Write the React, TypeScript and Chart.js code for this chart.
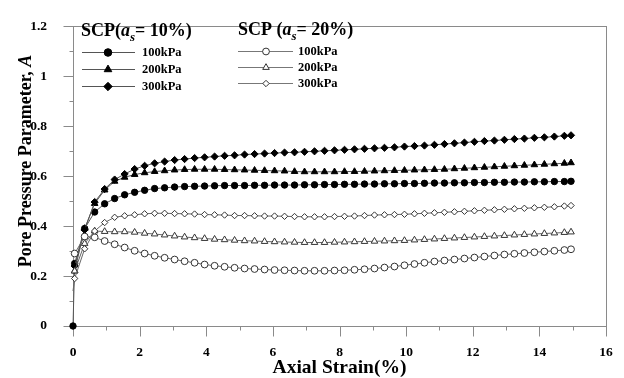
import React, { useEffect, useRef } from 'react';
import { Chart, registerables } from 'chart.js';
import { drawPoint } from 'chart.js/helpers';

Chart.register(...registerables);

const FONT = "'Liberation Serif', 'Times New Roman', serif";

// Axial strain (%) of the sampled points
const strain = [
  0.05, 0.35, 0.65, 0.95, 1.25, 1.55, 1.85, 2.15, 2.45, 2.75,
  3.05, 3.35, 3.65, 3.95, 4.25, 4.55, 4.85, 5.15, 5.45, 5.75,
  6.05, 6.35, 6.65, 6.95, 7.25, 7.55, 7.85, 8.15, 8.45, 8.75,
  9.05, 9.35, 9.65, 9.95, 10.25, 10.55, 10.85, 11.15, 11.45, 11.75,
  12.05, 12.35, 12.65, 12.95, 13.25, 13.55, 13.85, 14.15, 14.45, 14.75,
  14.95,
];

// SCP (as = 10%)
const scp10_100 = [
  0.25, 0.39, 0.456, 0.489, 0.51, 0.525, 0.535, 0.543, 0.55, 0.553,
  0.556, 0.558, 0.559, 0.56, 0.561, 0.562, 0.562, 0.562, 0.563, 0.563,
  0.564, 0.564, 0.564, 0.565, 0.565, 0.566, 0.566, 0.567, 0.567, 0.568,
  0.568, 0.569, 0.569, 0.57, 0.57, 0.571, 0.572, 0.572, 0.573, 0.573,
  0.574, 0.574, 0.575, 0.575, 0.576, 0.576, 0.577, 0.577, 0.578, 0.578,
  0.579,
];
const scp10_200 = [
  0.22, 0.39, 0.49, 0.544, 0.579, 0.595, 0.606, 0.613, 0.618, 0.621,
  0.624, 0.626, 0.627, 0.627, 0.627, 0.626, 0.625, 0.624, 0.623, 0.622,
  0.621, 0.62, 0.618, 0.617, 0.617, 0.617, 0.617, 0.618, 0.618, 0.619,
  0.62, 0.621, 0.622, 0.623, 0.624, 0.625, 0.626, 0.627, 0.629, 0.631,
  0.633, 0.635, 0.637, 0.639, 0.641, 0.643, 0.645, 0.647, 0.649, 0.651,
  0.653,
];
const scp10_300 = [
  0.24, 0.385, 0.496, 0.548, 0.586, 0.608, 0.628, 0.641, 0.651, 0.658,
  0.664, 0.668, 0.672, 0.675, 0.678, 0.681, 0.683, 0.686, 0.688, 0.69,
  0.692, 0.694, 0.695, 0.697, 0.699, 0.701, 0.703, 0.705, 0.707, 0.709,
  0.711, 0.713, 0.715, 0.718, 0.72, 0.722, 0.725, 0.728, 0.731, 0.734,
  0.737, 0.74, 0.742, 0.745, 0.748, 0.75, 0.753, 0.755, 0.758, 0.761,
  0.763,
];

// SCP (as = 20%)
const scp20_100 = [
  0.29, 0.358, 0.355, 0.34, 0.327, 0.314, 0.301, 0.29, 0.281, 0.273,
  0.266, 0.259, 0.253, 0.246, 0.241, 0.237, 0.233, 0.23, 0.228, 0.226,
  0.224, 0.223, 0.222, 0.221, 0.221, 0.221, 0.222, 0.223, 0.225, 0.227,
  0.23, 0.234, 0.238, 0.243, 0.248, 0.253, 0.258, 0.262, 0.266, 0.27,
  0.274, 0.278, 0.282, 0.286, 0.289, 0.292, 0.295, 0.298, 0.301, 0.304,
  0.307,
];
const scp20_200 = [
  0.22, 0.33, 0.38, 0.378, 0.377, 0.377, 0.375, 0.371, 0.368, 0.364,
  0.36, 0.356, 0.353, 0.35, 0.347, 0.345, 0.343, 0.341, 0.34, 0.338,
  0.337, 0.336, 0.335, 0.334, 0.334, 0.334, 0.335, 0.336, 0.337, 0.338,
  0.339, 0.34, 0.341, 0.342, 0.344, 0.346, 0.348, 0.35, 0.352, 0.354,
  0.356, 0.358, 0.36, 0.362, 0.364, 0.366, 0.368, 0.37, 0.372, 0.374,
  0.376,
];
const scp20_300 = [
  0.19, 0.309, 0.38, 0.414, 0.435, 0.441, 0.445, 0.449, 0.451, 0.451,
  0.45, 0.449, 0.448, 0.446, 0.445, 0.444, 0.442, 0.442, 0.441, 0.44,
  0.44, 0.439, 0.438, 0.437, 0.437, 0.437, 0.438, 0.439, 0.44, 0.442,
  0.444, 0.445, 0.446, 0.447, 0.449, 0.451, 0.453, 0.455, 0.457, 0.459,
  0.461, 0.463, 0.465, 0.467, 0.469, 0.471, 0.473, 0.475, 0.477, 0.48,
  0.482,
];

// starting points at zero strain
const scp10_100_start = 0;
const scp20_300_start = 0.14;

const xTicks = [0, 2, 4, 6, 8, 10, 12, 14, 16];
const yTicks = [0, 0.2, 0.4, 0.6, 0.8, 1, 1.2];
const pressures = ['100kPa', '200kPa', '300kPa'];

type Pt = { x: number; y: number };
const zip = (vals: number[]): Pt[] => strain.map((s, i) => ({ x: s, y: vals[i] }));

const FILL_STYLES = ['circle', 'triangle', 'rectRot'];
const FILL_R = [3.2, 3.8, 3.6];
const OPEN_R = [3.4, 3.8, 3.2];

const decor = {
  id: 'decor',
  beforeDatasetsDraw(chart: any) {
    const { ctx, chartArea: a, scales } = chart;
    const xs = scales.x;
    const ys = scales.y;
    ctx.save();
    ctx.strokeStyle = '#8a8a8a';
    ctx.lineWidth = 1;
    const L = Math.round(a.left) + 0.5;
    const R = Math.round(a.right) + 0.5;
    const T = Math.round(a.top) + 0.5;
    const B = Math.round(a.bottom) + 0.5;
    ctx.strokeRect(L, T, R - L, B - T);
    ctx.beginPath();
    for (let i = 0; i <= 16; i++) {
      const px = Math.round(xs.getPixelForValue(i)) + 0.5;
      const len = i % 2 === 0 ? 10 : 4;
      ctx.moveTo(px, B);
      ctx.lineTo(px, B + len);
    }
    for (let i = 0; i <= 12; i++) {
      const py = Math.round(ys.getPixelForValue(i / 10)) + 0.5;
      const len = i % 2 === 0 ? 10 : 4;
      ctx.moveTo(L, py);
      ctx.lineTo(L - len, py);
    }
    ctx.stroke();
    ctx.restore();
  },
  afterDraw(chart: any) {
    const { ctx, chartArea: a } = chart;
    ctx.save();
    ctx.fillStyle = '#000';
    // x title
    ctx.font = `bold 19.5px ${FONT}`;
    ctx.textAlign = 'center';
    ctx.textBaseline = 'alphabetic';
    ctx.fillText('Axial Strain(%)', (a.left + a.right) / 2, 373);
    // y title
    ctx.save();
    ctx.translate(31, 161);
    ctx.rotate(-Math.PI / 2);
    const t1 = 'Pore Pressure Parameter, ';
    const t2 = 'A';
    ctx.font = `bold 18px ${FONT}`;
    const w1 = ctx.measureText(t1).width;
    ctx.font = `italic bold 18px ${FONT}`;
    const w2 = ctx.measureText(t2).width;
    const x0 = -(w1 + w2) / 2;
    ctx.textAlign = 'left';
    ctx.font = `bold 18px ${FONT}`;
    ctx.fillText(t1, x0, 0);
    ctx.font = `italic bold 18px ${FONT}`;
    ctx.fillText(t2, x0 + w1, 0);
    ctx.restore();

    // legend
    const header = (x: number, y: number, pre: string, post: string) => {
      ctx.textAlign = 'left';
      ctx.font = `bold 18px ${FONT}`;
      ctx.fillText(pre, x, y);
      let cx = x + ctx.measureText(pre).width;
      ctx.font = `italic bold 18px ${FONT}`;
      ctx.fillText('a', cx, y);
      cx += ctx.measureText('a').width;
      ctx.font = `italic bold 13px ${FONT}`;
      ctx.fillText('s', cx, y + 5);
      cx += ctx.measureText('s').width;
      ctx.font = `bold 18px ${FONT}`;
      ctx.fillText(post, cx, y);
    };
    header(81, 36, 'SCP(', '= 10%)');
    header(238, 35, 'SCP (', '= 20%)');

    const rows1 = [52, 69, 85.5];
    const rows2 = [50.5, 67, 83];
    const item = (x0: number, x1: number, mx: number, lx: number, y: number, k: number, filled: boolean) => {
      ctx.strokeStyle = filled ? '#555' : '#777';
      ctx.lineWidth = 1;
      ctx.beginPath();
      ctx.moveTo(x0, Math.round(y) + 0.5);
      ctx.lineTo(x1, Math.round(y) + 0.5);
      ctx.stroke();
      ctx.fillStyle = filled ? '#000' : '#fff';
      ctx.strokeStyle = filled ? '#000' : '#333';
      drawPoint(ctx, { pointStyle: FILL_STYLES[k], radius: filled ? FILL_R[k] + 0.6 : OPEN_R[k], borderWidth: 1, rotation: 0 }, mx, Math.round(y) + 0.5);
      ctx.fillStyle = '#000';
      ctx.font = `bold 12.5px ${FONT}`;
      ctx.textAlign = 'left';
      ctx.textBaseline = 'middle';
      ctx.fillText(pressures[k], lx, y + 1);
      ctx.textBaseline = 'alphabetic';
    };
    for (let k = 0; k < 3; k++) {
      item(82, 135, 108, 142, rows1[k], k, true);
      item(238, 293, 266, 298, rows2[k], k, false);
    }
    ctx.restore();
  },
};

export default function App() {
  const ref = useRef<HTMLCanvasElement | null>(null);
  useEffect(() => {
    if (!ref.current) return;
    const f100 = [{ x: 0, y: scp10_100_start }, ...zip(scp10_100)];
    const o300 = [{ x: 0, y: scp20_300_start }, ...zip(scp20_300)];
    const series = [
      { data: f100, k: 0, filled: true, hideFirst: false },
      { data: zip(scp10_200), k: 1, filled: true, hideFirst: false },
      { data: zip(scp10_300), k: 2, filled: true, hideFirst: false },
      { data: zip(scp20_100), k: 0, filled: false, hideFirst: false },
      { data: zip(scp20_200), k: 1, filled: false, hideFirst: false },
      { data: o300, k: 2, filled: false, hideFirst: true },
    ];
    const chart = new Chart(ref.current, {
      type: 'scatter',
      data: {
        datasets: series.map((s, i) => ({
          label: `s${i}`,
          data: s.data,
          showLine: true,
          borderColor: s.filled ? '#555' : '#666',
          borderWidth: 1,
          pointStyle: FILL_STYLES[s.k],
          pointRadius: s.hideFirst
            ? (c: any) => (c.dataIndex === 0 ? 0 : OPEN_R[s.k])
            : s.filled ? FILL_R[s.k] : OPEN_R[s.k],
          pointBackgroundColor: s.filled ? '#000' : '#fff',
          pointBorderColor: s.filled ? '#000' : '#333',
          pointBorderWidth: 1,
          pointHoverRadius: 0,
          tension: 0,
          clip: false,
          order: 6 - i,
        })),
      },
      options: {
        animation: false,
        responsive: true,
        maintainAspectRatio: false,
        events: [],
        layout: { padding: { left: 0, top: 14, right: 18, bottom: 0 } },
        plugins: { legend: { display: false }, tooltip: { enabled: false }, title: { display: false } },
        scales: {
          x: {
            type: 'linear',
            min: 0,
            max: 16,
            afterFit: (s: any) => { s.height = 52; },
            afterBuildTicks: (s: any) => { s.ticks = xTicks.map((v) => ({ value: v })); },
            grid: { display: false },
            border: { display: false },
            ticks: {
              padding: 10,
              color: '#000',
              font: { family: FONT, size: 13.5, weight: 'bold' },
              callback: (v: any) => String(v),
            },
          },
          y: {
            type: 'linear',
            min: 0,
            max: 1.2,
            afterFit: (s: any) => { s.width = 73; },
            afterBuildTicks: (s: any) => { s.ticks = yTicks.map((v) => ({ value: v })); },
            grid: { display: false },
            border: { display: false },
            ticks: {
              padding: 18,
              color: '#000',
              font: { family: FONT, size: 13.5, weight: 'bold' },
              callback: (v: any) => String(Math.round(v * 10) / 10),
            },
          },
        },
      },
      plugins: [decor],
    } as any);
    return () => chart.destroy();
  }, []);
  return (
    <div style={{ position: 'absolute', left: 0, top: 0, width: 624, height: 378, background: '#fff' }}>
      <canvas ref={ref} width={624} height={378} />
    </div>
  );
}
